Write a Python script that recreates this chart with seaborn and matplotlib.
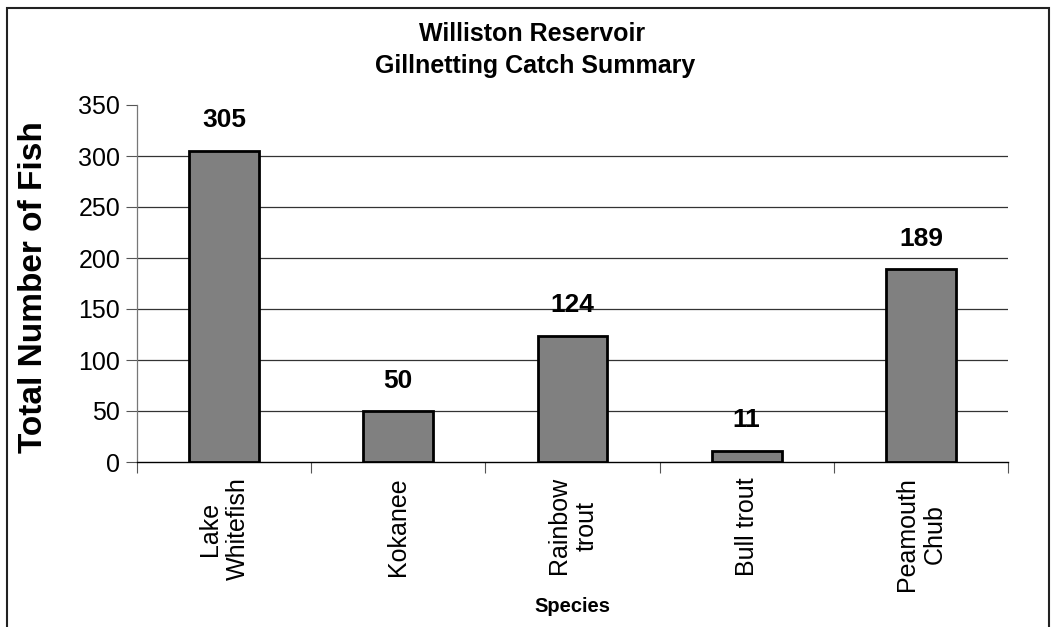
import numpy as np
import pandas as pd
import matplotlib
matplotlib.use("Agg")
import matplotlib.pyplot as plt
import seaborn as sns
from matplotlib.patches import Rectangle

# ==========================================
# DATA
# ==========================================

species = [
    "Lake\nWhitefish",
    "Kokanee",
    "Rainbow\ntrout",
    "Bull trout",
    "Peamouth\nChub"
]

counts = [305, 50, 124, 11, 189]

y_ticks = [0, 50, 100, 150, 200, 250, 300, 350]

df = pd.DataFrame({"Species": species, "Count": counts})

# ==========================================
# STYLE
# ==========================================

sns.set_style("white")
plt.rcParams["font.family"] = ["Liberation Sans", "DejaVu Sans"]
plt.rcParams["text.color"] = "black"
plt.rcParams["axes.labelcolor"] = "black"
plt.rcParams["xtick.color"] = "black"
plt.rcParams["ytick.color"] = "black"

fig = plt.figure(figsize=(10.55, 6.27), dpi=100)
ax = fig.add_axes([137 / 1055, 1 - 462 / 627, (1008 - 137) / 1055, (462 - 105) / 627])

sns.barplot(
    data=df,
    x="Species",
    y="Count",
    color="#808080",
    edgecolor="black",
    linewidth=2,
    width=0.4,
    saturation=1,
    ax=ax,
    zorder=3
)

# gridlines (none at the top value)
for v in y_ticks[1:-1]:
    ax.axhline(v, color="#333333", linewidth=0.9, zorder=1)

ax.set_ylim(0, 350)
ax.set_xlim(-0.5, len(species) - 0.5)
ax.set_yticks(y_ticks)
ax.tick_params(axis="y", labelsize=18, length=8, width=0.8, color="#555555",
               labelcolor="black", pad=4, direction="out", left=True)

# category ticks on the boundaries
ax.set_xticks(np.arange(len(species)))
ax.set_xticklabels(species, rotation=90, fontsize=18, linespacing=1.2)
ax.tick_params(axis="x", which="major", length=0, pad=11, labelcolor="black")
ax.set_xticks(np.arange(-0.5, len(species)), minor=True)
ax.tick_params(axis="x", which="minor", length=8, width=0.8, color="#555555", bottom=True)

for s in ["top", "right"]:
    ax.spines[s].set_visible(False)
ax.spines["left"].set_color("#777777")
ax.spines["left"].set_linewidth(0.9)
ax.spines["bottom"].set_color("black")
ax.spines["bottom"].set_linewidth(1.0)

# value labels
for i, c in enumerate(counts):
    ax.text(i, c + 23, str(c), ha="center", va="baseline", fontsize=19, fontweight="bold")

ax.set_ylabel("Total Number of Fish", fontsize=24, fontweight="bold")
ax.yaxis.set_label_coords(-88 / 871, 0.49)
ax.set_xlabel("")

fig.text(572 / 1055, 1 - 606 / 627, "Species", ha="center", va="center", fontsize=14.5, fontweight="bold")

fig.text(532 / 1055, 1 - 41 / 627, "Williston Reservoir",
         ha="center", va="baseline", fontsize=18, fontweight="bold")
fig.text(535 / 1055, 1 - 73 / 627, "Gillnetting Catch Summary",
         ha="center", va="baseline", fontsize=18, fontweight="bold")

# chart border
fig.patches.append(Rectangle((7 / 1055, -0.05), (1049 - 7) / 1055, 1.05 - 8 / 627,
                             transform=fig.transFigure, fill=False, edgecolor="#222222", linewidth=1.5))

fig.savefig("out.png", dpi=100)
